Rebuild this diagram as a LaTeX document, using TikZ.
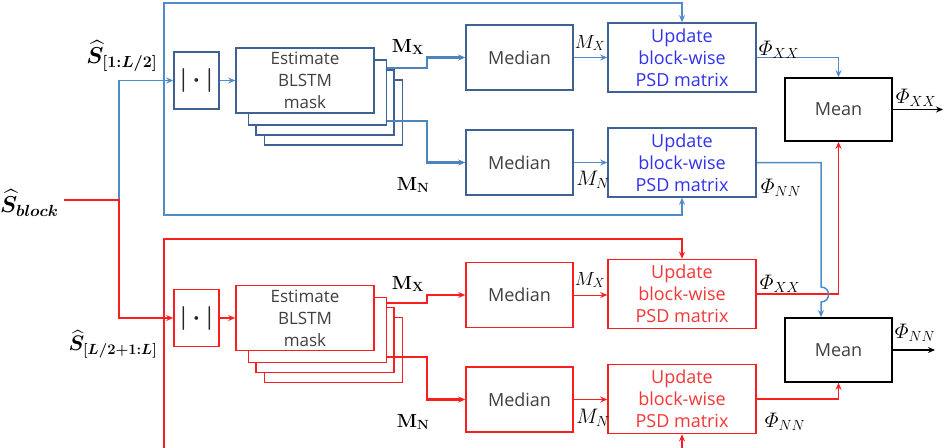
\RequirePackage{fix-cm}
\documentclass[tikz,border=0pt]{standalone}
\usepackage{amsmath,bm}
\usepackage[no-math]{fontspec}
\setmainfont{Open Sans}
\usetikzlibrary{calc,arrows.meta}
\definecolor{bline}{RGB}{80,140,200}
\definecolor{bbox}{RGB}{62,98,145}
\definecolor{btxt}{RGB}{50,50,235}
\definecolor{rline}{RGB}{250,30,30}
\definecolor{rtxt}{RGB}{245,55,55}
\definecolor{txtg}{RGB}{64,64,64}
\begin{document}
\begin{tikzpicture}[x=1pt,y=-1pt,
  tip/.style={-{Stealth[length=7pt,width=6pt]}},
  boxbase/.style={draw, line width=1.6pt, fill=white, inner sep=0pt, text=txtg, align=center, font=\fontsize{18}{22}\selectfont},
  bbx/.style={boxbase, draw=bbox},
  rbx/.style={boxbase, draw=rline},
  kbx/.style={boxbase, draw=black},
  estsz/.style={minimum width=138pt, minimum height=65pt, font=\fontsize{17}{22}\selectfont},
  medsz/.style={minimum width=107pt, minimum height=65pt},
  updsz/.style={minimum width=148pt, minimum height=69pt},
  abssz/.style={minimum width=45pt, minimum height=57pt, text=black!85, font=\fontsize{24}{26}\selectfont},
  bcon/.style={draw=bline, line width=1.5pt},
  rcon/.style={draw=rline, line width=1.5pt},
  bthick/.style={draw=bline!80!bbox, line width=2.6pt},
  rthick/.style={draw=rline, line width=2.6pt},
  bthin/.style={draw=bline, line width=1pt},
  rthin/.style={draw=rline, line width=1pt},
  lab/.style={inner sep=0pt, font=\fontsize{19}{22}\selectfont},
  plab/.style={inner sep=0pt, font=\fontsize{21}{24}\selectfont},
  slab/.style={inner sep=0pt, font=\fontsize{23}{26}\selectfont},
]
\clip (0,0) rectangle (947,447);
\fill[white] (0,0) rectangle (947,447);

% ---------------- blue branch ----------------
\node[bbx, abssz] (absB) at (196.5,80.5) {$\bm{|\cdot|}$};
\node[bbx, estsz] (estB4) at (333.5,112.5) {};
\node[bbx, estsz] (estB3) at (325,102.5) {};
\node[bbx, estsz] (estB2) at (317.5,92.5) {};
\node[bbx, estsz] (estB1) at (305,80.5) {Estimate\\BLSTM\\mask};
\node[bbx, medsz] (medBX) at (519.5,57.5) {Median};
\node[bbx, medsz] (medBN) at (519.5,162.5) {Median};
\node[bbx, updsz, text=btxt] (updBX) at (682,57.5) {Update\\block-wise\\PSD matrix};
\node[bbx, updsz, text=btxt] (updBN) at (682,162.5) {Update\\block-wise\\PSD matrix};

% ---------------- red branch ----------------
\node[rbx, abssz] (absR) at (196.5,318) {$\bm{|\cdot|}$};
\node[rbx, estsz] (estR4) at (333.5,350) {};
\node[rbx, estsz] (estR3) at (325,340) {};
\node[rbx, estsz] (estR2) at (317.5,330) {};
\node[rbx, estsz] (estR1) at (305,318) {Estimate\\BLSTM\\mask};
\node[rbx, medsz] (medRX) at (519.5,295) {Median};
\node[rbx, medsz] (medRN) at (519.5,399.5) {Median};
\node[rbx, updsz, text=rtxt] (updRX) at (682,294) {Update\\block-wise\\PSD matrix};
\node[rbx, updsz, text=rtxt] (updRN) at (682,399) {Update\\block-wise\\PSD matrix};

% ---------------- mean boxes ----------------
\node[kbx, minimum width=107pt, minimum height=63pt] (meanX) at (838.5,109.5) {Mean};
\node[kbx, minimum width=107pt, minimum height=64pt] (meanN) at (838.5,350) {Mean};

% ---------------- input ----------------
\coordinate (sblk) at (64,200);
\coordinate (j) at (119,200);
\coordinate (lb) at (164,80.5);
\coordinate (lr) at (164,318);
\draw[bcon, tip] (j) |- (absB.west);
\draw[rcon, tip] (sblk) -- (j) |- (absR.west);

% loops
\draw[bcon, tip] (lb) -- (164,3) -| (updBX.north);
\draw[bcon, tip] (lb) -- (164,215) -| (updBN.south);
\draw[rcon, tip] (lr) -- (164,239) -| (updRX.north);
\draw[rcon, tip] (lr) -- (164,480) -| (updRN.south);

% abs -> estimate
\draw[bcon, tip] (absB.east) -- (estB1.west |- absB.east);
\draw[rcon, tip] (absR.east) -- (estR1.west |- absR.east);

% masks -> median (blue)
\draw[bthick, tip] (estB2.east |- 0,68) -- (427,68) -- (427,57.5) -- (medBX.west);
\draw[bthick, tip] (estB2.east |- 0,121) -- (427,121) -- (427,162.5) -- (medBN.west);
% masks -> median (red)
\draw[rthick, tip] (estR2.east |- 0,303) -- (427,303) -- (427,295) -- (medRX.west);
\draw[rthick, tip] (estR2.east |- 0,357) -- (427,357) -- (427,399.5) -- (medRN.west);

% median -> update
\draw[bthin, tip] (medBX.east) -- (updBX.west |- medBX.east);
\draw[bthin, tip] (medBN.east) -- (updBN.west |- medBN.east);
\draw[rthin, tip] (medRX.east) -- (updRX.west |- medRX.east);
\draw[rthin, tip] (medRN.east) -- (updRN.west |- medRN.east);

% update -> mean
\draw[bcon, tip] (updBX.east) -| (meanX.north);
\draw[rcon, tip] (updRX.east) -| (meanX.south);
\draw[bcon, tip] (updBN.east) -- (821,162.5) -- (821,287) .. controls (831,287) and (831,302) .. (821,302) -- ($(meanN.north)+(-17.5,0)$);
\draw[rcon, tip] (updRN.east) -| (meanN.south);

% outputs
\coordinate (outX) at (943,109.5);
\coordinate (outN) at (935,350);
\draw[line width=1.5pt, tip] (meanX.east) -- (outX);
\draw[line width=1.5pt, tip] (meanN.east) -- (outN);

% ---------------- labels ----------------
\node[slab] at (122,56) {$\bm{\widehat{S}_{[1:L/2]}}$};
\node[slab, anchor=west] at (0,203) {$\bm{\widehat{S}_{block}}$};
\node[plab] at (113,344) {$\bm{\widehat{S}_{[L/2+1:L]}}$};

\node[lab] at (408,47) {$\mathbf{M}_{\mathbf{X}}$};
\node[lab] at (413,185) {$\mathbf{M}_{\mathbf{N}}$};
\node[lab] at (408,284) {$\mathbf{M}_{\mathbf{X}}$};
\node[lab] at (413,422) {$\mathbf{M}_{\mathbf{N}}$};

\node[lab] at (590,43) {$M_X$};
\node[plab] at (593,180) {$M_N$};
\node[lab] at (590,280) {$M_X$};
\node[plab] at (593,418) {$M_N$};

\node[plab] at (779,50) {$\varPhi_{XX}$};
\node[plab] at (781,188) {$\varPhi_{NN}$};
\node[plab] at (780,284) {$\varPhi_{XX}$};
\node[plab] at (785,422) {$\varPhi_{NN}$};
\node[plab] at (916,98) {$\varPhi_{XX}$};
\node[plab] at (915,333) {$\varPhi_{NN}$};
\end{tikzpicture}
\end{document}
